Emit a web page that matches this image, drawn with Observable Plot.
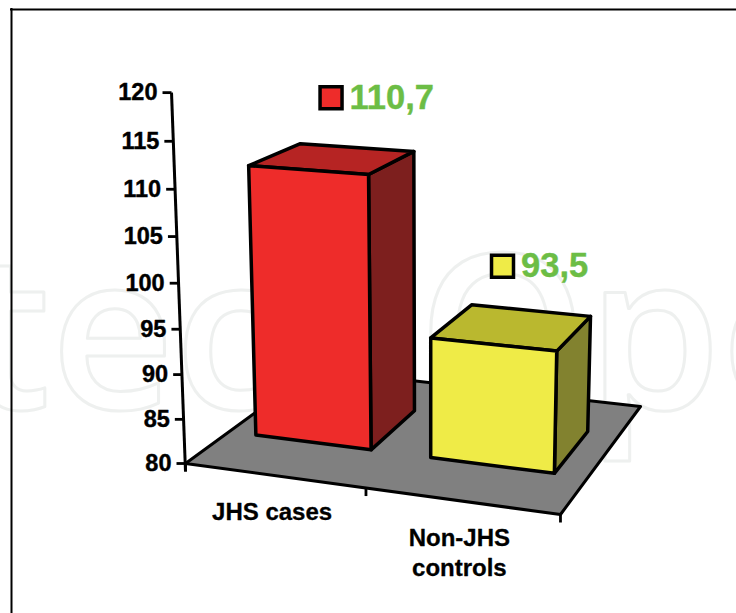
<!DOCTYPE html>
<html>
<head>
<meta charset="utf-8">
<script src="https://cdn.jsdelivr.net/npm/d3@7"></script>
<script src="https://cdn.jsdelivr.net/npm/@observablehq/plot@0.6"></script>
<style>
html,body{margin:0;padding:0;background:#fff}
svg{display:block}
</style>
</head>
<body>
<div id="chart"></div>
<script>
const categories = ["JHS cases", "Non-JHS\ncontrols"];
const values = [110.7, 93.5];
const valueLabels = ["110,7", "93,5"];
const yTicks = [80, 85, 90, 95, 100, 105, 110, 115, 120];
const frontColors = ["#ee2c2a", "#efeb47"];
const topColors = ["#b62423", "#bab82f"];
const sideColors = ["#7d1f1e", "#82822f"];
const baseValue = 80;
const labelShift = [-3, -11];

// oblique perspective camera of the 3-D chart: floor plane + vertical vanishing point
function project(u, d, v) {
  const w = 1 - 0.0721 * u + 0.168 * d;
  const bx = (334.6 * u + 181.8 * d + 185) / w;
  const by = (13.94 * u - 32.0 * d + 463) / w;
  const q = 0.00135 * (v - baseValue) / w;
  const r = q / (1 - q);
  return [bx + r * (bx - 430), by + r * (by - 6960)];
}
const pt = (u, d, v) => { const [x, y] = project(u, d, v); return {x, y}; };
const depthNear = 0.305, depthFar = 0.70, halfBar = 1 / 6, barNudge = -0.004;

const floor = [[0,0],[1,0],[1,1],[0,1]].map(([u,d]) => pt(u, d, baseValue));

const faces = [];
values.forEach((v, i) => {
  const c = (i + 0.5) / categories.length + barNudge;
  const u0 = c - halfBar, u1 = c + halfBar;
  const add = (id, color, corners) => corners.forEach(p => faces.push({...pt(...p), id: `${i}-${id}`, color}));
  add("side", sideColors[i], [[u1,depthNear,baseValue],[u1,depthFar,baseValue],[u1,depthFar,v],[u1,depthNear,v]]);
  add("top", topColors[i], [[u0,depthNear,v],[u1,depthNear,v],[u1,depthFar,v],[u0,depthFar,v]]);
  add("front", frontColors[i], [[u0,depthNear,baseValue],[u1,depthNear,baseValue],[u1,depthNear,v],[u0,depthNear,v]]);
});

const tickRows = yTicks.map(t => ({...pt(0, 0, t), t}));
const axisTop = pt(0, 0, d3.max(yTicks));
const axisBase = pt(0, 0, baseValue);
const catTicks = [0, 0.5, 1].map(u => pt(u, 0, baseValue));
const catLabels = categories.map((name, i) => ({...pt((i + 0.5) / categories.length, 0, baseValue), name}));
const valueRows = values.map((v, i) => ({
  ...pt((i + 0.5) / categories.length, 0.5, v),
  label: valueLabels[i], color: frontColors[i], shift: labelShift[i]
}));

const font = "'Liberation Sans', Arial, sans-serif";

const plot = Plot.plot({
  width: 736, height: 613,
  marginTop: 0, marginRight: 0, marginBottom: 0, marginLeft: 0,
  style: {background: "#fff", fontFamily: font},
  x: {domain: [0, 736], range: [0, 736], axis: null},
  y: {domain: [0, 613], range: [0, 613], axis: null},
  color: {type: "identity"},
  marks: [
    Plot.text(["IntechOpen"], {
      x: -237, y: 408, text: d => d, textAnchor: "start", lineAnchor: "bottom",
      fontSize: 215, fontFamily: "'Open Sans', sans-serif", fontWeight: 600,
      fill: "none", stroke: "#eef0ef", strokeWidth: 3
    }),
    Plot.ruleX([11], {y1: 8, y2: 613, stroke: "#000", strokeWidth: 2}),
    Plot.ruleY([9], {x1: 10, x2: 736, stroke: "#000", strokeWidth: 2}),
    Plot.line(floor, {x: "x", y: "y", curve: "linear-closed", fill: "#808080", stroke: "#000", strokeWidth: 3, strokeLinejoin: "round"}),
    Plot.link([axisTop], {x1: "x", y1: "y", x2: () => axisBase.x, y2: () => axisBase.y + 8, stroke: "#000", strokeWidth: 3}),
    Plot.link(tickRows, {x1: d => d.x - 9, y1: "y", x2: "x", y2: "y", stroke: "#000", strokeWidth: 2.8}),
    Plot.link(catTicks, {x1: "x", y1: "y", x2: "x", y2: d => d.y + 8, stroke: "#000", strokeWidth: 2.8}),
    Plot.text(tickRows, {x: d => d.x - 14, y: "y", text: d => String(d.t), textAnchor: "end", fontSize: 23.5, fontWeight: 700, fill: "#000", stroke: "#000", strokeWidth: 0.4, lineAnchor: "middle"}),
    Plot.text(catLabels, {x: d => d.x - 2, y: d => d.y + 23, text: "name", textAnchor: "middle", lineAnchor: "top", fontSize: 24, fontWeight: 700, fill: "#000", stroke: "#000", strokeWidth: 0.3, lineHeight: 1.275}),
    Plot.line(faces, {x: "x", y: "y", z: "id", curve: "linear-closed", fill: "color", stroke: "#000", strokeWidth: 3.5, strokeLinejoin: "round"}),
    Plot.dot(valueRows, {x: d => d.x + d.shift, y: d => d.y - 61, symbol: "square", r: 12.4, fill: "color", stroke: "#000", strokeWidth: 3.5}),
    Plot.text(valueRows, {x: d => d.x + d.shift + 18.5, y: d => d.y - 61, text: "label", textAnchor: "start", lineAnchor: "middle", fontSize: 34.5, fontWeight: 700, fill: "#6cbd45", stroke: "#6cbd45", strokeWidth: 0.4})
  ]
});
document.getElementById("chart").appendChild(plot);
</script>
</body>
</html>
